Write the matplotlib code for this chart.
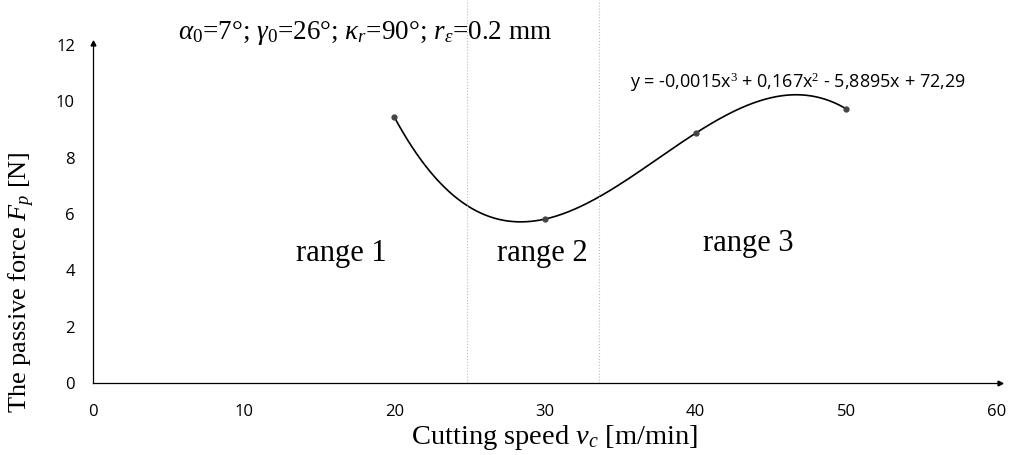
import numpy as np
import matplotlib.pyplot as plt

plt.rcParams['mathtext.fontset'] = 'custom'
plt.rcParams['mathtext.rm'] = 'Liberation Serif'
plt.rcParams['mathtext.it'] = 'Liberation Serif:italic'

speed = [20, 30, 40, 50]
force = [9.44, 5.82, 8.87, 9.73]
boundaries = [24.8, 33.6]
xticks = [0, 10, 20, 30, 40, 50, 60]
yticks = [0, 2, 4, 6, 8, 10, 12]
ranges = ["range 1", "range 2", "range 3"]
range_x = [16.5, 29.8, 43.5]
range_y = [4.6, 4.6, 4.95]
equation = "y = -0,0015x$^3$ + 0,167x$^2$ - 5,8895x + 72,29"

fig = plt.figure(figsize=(10.13, 4.55), dpi=100)
ax = fig.add_axes([93/1013, 1-383/455, (997-93)/1013, (383-45)/455])

# cubic trend through the points
coef = np.polyfit(speed, force, 3)
xs = np.linspace(speed[0], speed[-1], 300)
ax.plot(xs, np.polyval(coef, xs), color="black", lw=1.2)
ax.plot(speed, force, "o", color="#444444", ms=3.5)

for b in boundaries:
    ax.axvline(b, ymin=0, ymax=383/338, color="#bbbbbb", lw=0.8, ls=":", clip_on=False)

ax.set_xlim(0, 60)
ax.set_ylim(0, 12)
ax.set_xticks(xticks)
ax.set_yticks(yticks)
ax.tick_params(length=0, labelsize=12)
ax.tick_params(axis="x", pad=15)
ax.tick_params(axis="y", pad=13)
for lab in ax.get_xticklabels() + ax.get_yticklabels():
    lab.set_fontfamily("Open Sans")
for s in ["top", "right"]:
    ax.spines[s].set_visible(False)
ax.spines["left"].set_linewidth(0.9)
ax.spines["bottom"].set_linewidth(0.9)
ax.plot(1.003, 0, ">", color="black", ms=3.5, transform=ax.transAxes, clip_on=False)
ax.plot(0, 1.005, "^", color="black", ms=3.5, transform=ax.transAxes, clip_on=False)

for t, x, y in zip(ranges, range_x, range_y):
    ax.text(x, y, t, fontsize=22, family="Liberation Serif", ha="center", va="center")

ax.text(0.78, 0.89, equation, transform=ax.transAxes, fontsize=13, family="Open Sans",
        ha="center", va="center")

fig.text(178/1013, 1-33/455, r"$\alpha_0$=7°; $\gamma_0$=26°; $\kappa_r$=90°; $r_\varepsilon$=0.2 mm",
         fontsize=19.5, family="Liberation Serif", ha="left", va="center")
fig.text(555/1013, 1-438/455, r"Cutting speed $v_c$ [m/min]", fontsize=20.5,
         family="Liberation Serif", ha="center", va="center")
fig.text(22/1013, 1-282/455, r"The passive force $F_p$ [N]", fontsize=19,
         family="Liberation Serif", ha="center", va="center", rotation=90)

fig.savefig("out.png", dpi=100)
